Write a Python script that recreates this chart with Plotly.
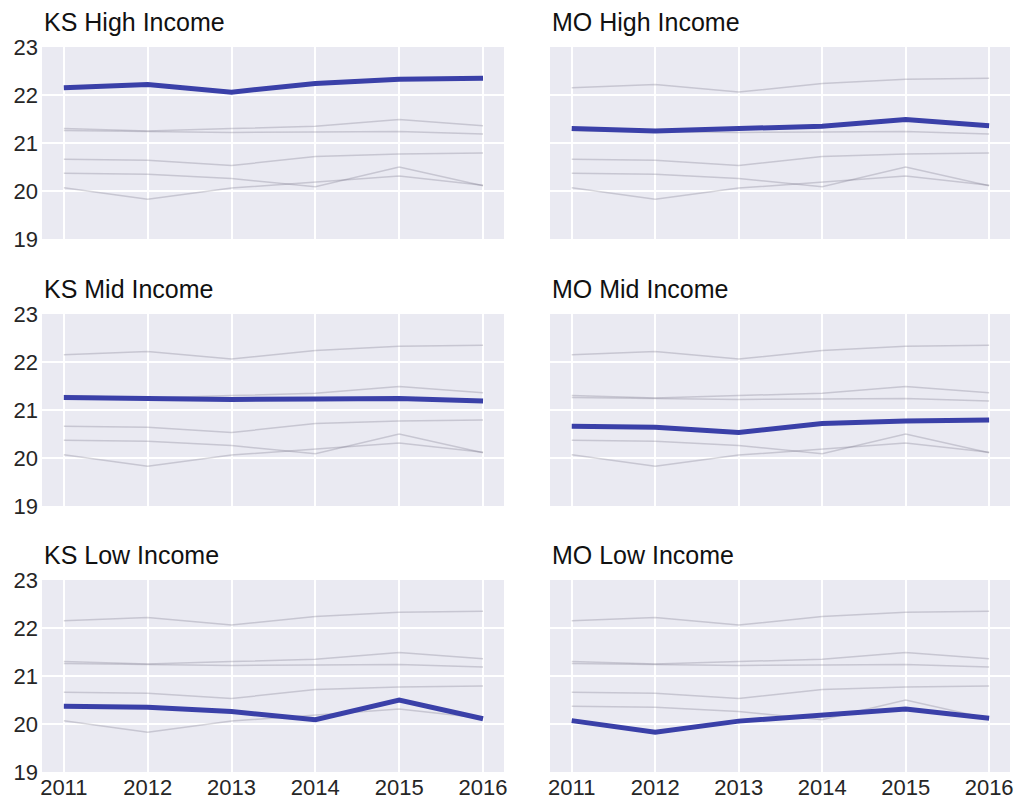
import plotly.graph_objects as go

years = [2011, 2012, 2013, 2014, 2015, 2016]

ks_high = [22.15, 22.22, 22.06, 22.24, 22.33, 22.35]
mo_high = [21.30, 21.25, 21.30, 21.35, 21.49, 21.36]
ks_mid = [21.26, 21.24, 21.22, 21.23, 21.24, 21.19]
mo_mid = [20.66, 20.64, 20.53, 20.72, 20.77, 20.79]
ks_low = [20.37, 20.35, 20.26, 20.09, 20.50, 20.11]
mo_low = [20.07, 19.83, 20.06, 20.19, 20.31, 20.12]

panel_titles = ["KS High Income", "MO High Income", "KS Mid Income",
                "MO Mid Income", "KS Low Income", "MO Low Income"]
series = [ks_high, mo_high, ks_mid, mo_mid, ks_low, mo_low]

y_ticks = [19, 20, 21, 22, 23]

W, H = 1020, 800
col_px = [(42, 504), (550, 1010)]
row_px = [(47, 239), (314, 506), (580, 772)]

fig = go.Figure()
font_family = "Liberation Sans, Arial, sans-serif"
text_color = "#262626"
bg = "#EAEAF2"
gray = "rgba(120,115,135,0.30)"
blue = "#3a40a8"

for i, (title, highlight) in enumerate(zip(panel_titles, series)):
    r, c = divmod(i, 2)
    ax = i + 1
    xname = "xaxis" if ax == 1 else f"xaxis{ax}"
    yname = "yaxis" if ax == 1 else f"yaxis{ax}"
    xref = "x" if ax == 1 else f"x{ax}"
    yref = "y" if ax == 1 else f"y{ax}"
    x0, x1 = col_px[c]
    y0, y1 = row_px[r]
    for j, s in enumerate(series):
        if j == i:
            continue
        fig.add_trace(go.Scatter(x=years, y=s, mode="lines", xaxis=xref, yaxis=yref,
                                 line=dict(color=gray, width=1.5), showlegend=False,
                                 hoverinfo="skip"))
    fig.add_trace(go.Scatter(x=years, y=highlight, mode="lines", xaxis=xref, yaxis=yref,
                             line=dict(color=blue, width=5), showlegend=False))
    fig.layout[xname] = dict(
        domain=[x0 / W, x1 / W], anchor=yref, range=[2010.74, 2016.25],
        tickvals=years, showticklabels=(r == 2), showgrid=True, gridcolor="white",
        gridwidth=1.8, zeroline=False, showline=False, ticks="",
        tickfont=dict(size=22, color=text_color, family=font_family),
        fixedrange=True, automargin=False, ticklabelstandoff=0)
    fig.layout[yname] = dict(
        domain=[1 - y1 / H, 1 - y0 / H], anchor=xref, range=[19, 23],
        tickvals=y_ticks, showticklabels=(c == 0), showgrid=True, gridcolor="white",
        gridwidth=1.8, zeroline=False, showline=False, ticks="",
        tickfont=dict(size=22, color=text_color, family=font_family),
        fixedrange=True, automargin=False, ticklabelstandoff=3)
    fig.add_annotation(text=title, xref="paper", yref="paper", x=x0 / W,
                       y=1 - (y0 - 9) / H, xanchor="left", yanchor="bottom",
                       showarrow=False,
                       font=dict(size=25, color="#111111", family=font_family))

fig.update_layout(width=W, height=H, margin=dict(l=0, r=0, t=0, b=0),
                  paper_bgcolor="white", plot_bgcolor=bg)

fig.write_html("out.html")
